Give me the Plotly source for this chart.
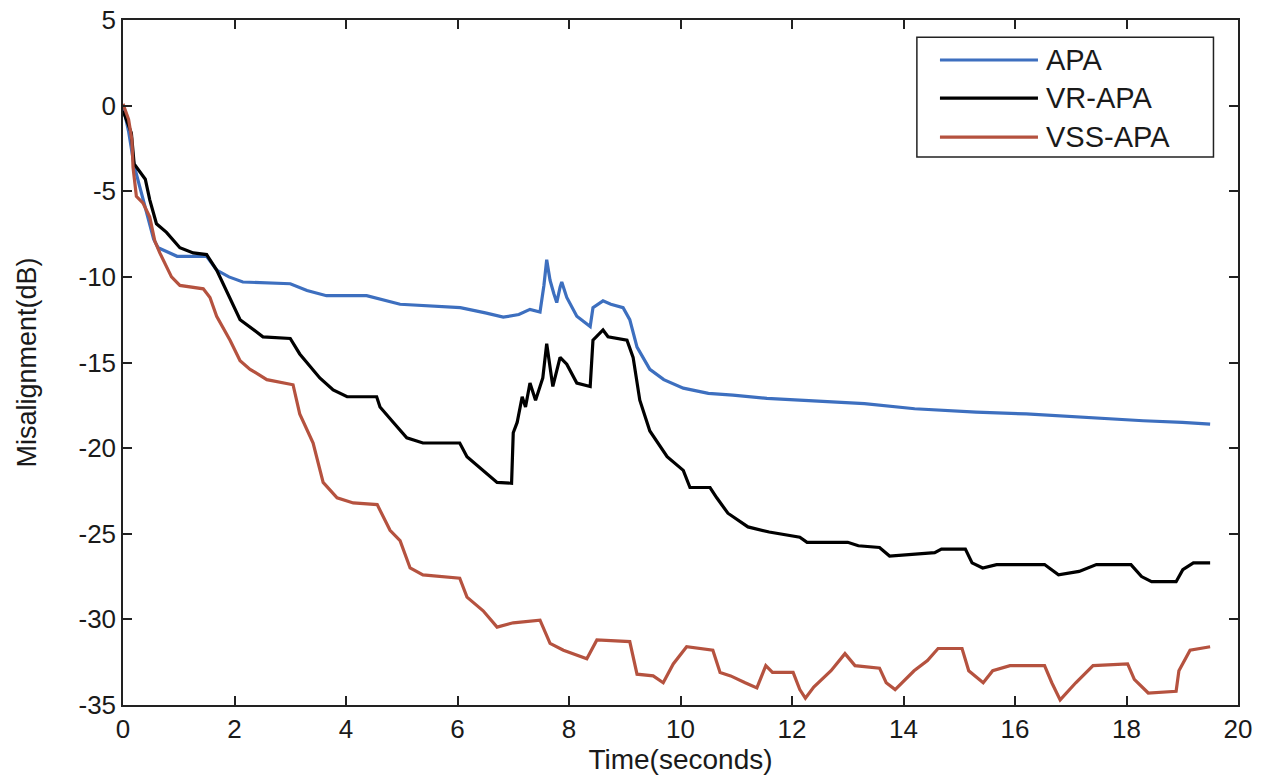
import plotly.graph_objects as go

apa_t = [0, 0.1, 0.2, 0.33, 0.45, 0.55, 0.63, 0.97, 1.5, 1.68, 1.9, 2.15, 3.0, 3.3, 3.65, 4.37, 4.97, 6.05, 6.5, 6.82, 7.1, 7.3, 7.48, 7.55, 7.6, 7.66, 7.73, 7.78, 7.84, 7.87, 7.96, 8.14, 8.38, 8.43, 8.61, 8.75, 8.97, 9.09, 9.22, 9.45, 9.7, 10.05, 10.5, 10.94, 11.55, 12.1, 13.3, 14.2, 15.3, 16.2, 17.15, 18.3, 19.0, 19.5]
apa_db = [0, -1.5, -3.5, -5.1, -6.5, -7.8, -8.3, -8.8, -8.8, -9.6, -10.0, -10.3, -10.4, -10.8, -11.1, -11.1, -11.6, -11.8, -12.1, -12.35, -12.2, -11.9, -12.05, -10.5, -9.0, -10.2, -11.0, -11.5, -10.6, -10.3, -11.2, -12.3, -12.9, -11.8, -11.4, -11.6, -11.8, -12.5, -14.1, -15.4, -16.0, -16.5, -16.8, -16.9, -17.1, -17.2, -17.4, -17.7, -17.9, -18.0, -18.2, -18.4, -18.5, -18.6]

vr_t = [0, 0.15, 0.2, 0.4, 0.48, 0.6, 0.78, 1.02, 1.26, 1.5, 1.68, 1.92, 2.1, 2.51, 3.0, 3.17, 3.35, 3.53, 3.77, 4.02, 4.55, 4.61, 4.85, 5.09, 5.38, 6.04, 6.17, 6.53, 6.71, 6.97, 6.99, 7.0, 7.07, 7.16, 7.22, 7.3, 7.4, 7.53, 7.6, 7.71, 7.84, 7.96, 8.14, 8.38, 8.43, 8.61, 8.7, 9.04, 9.15, 9.27, 9.45, 9.76, 10.05, 10.17, 10.53, 10.65, 10.85, 11.21, 11.59, 12.14, 12.27, 13.0, 13.19, 13.57, 13.75, 14.56, 14.68, 15.11, 15.23, 15.42, 15.67, 16.53, 16.78, 17.15, 17.46, 18.08, 18.27, 18.45, 18.89, 19.01, 19.2, 19.5]
vr_db = [-0.3, -1.6, -3.4, -4.3, -5.5, -6.9, -7.4, -8.3, -8.6, -8.7, -9.6, -11.2, -12.5, -13.5, -13.6, -14.5, -15.2, -15.9, -16.6, -17.0, -17.0, -17.6, -18.5, -19.4, -19.7, -19.7, -20.5, -21.5, -22.0, -22.05, -20.7, -19.1, -18.5, -17.0, -17.6, -16.2, -17.2, -15.9, -13.9, -16.4, -14.7, -15.1, -16.2, -16.4, -13.7, -13.1, -13.5, -13.7, -14.7, -17.2, -19.0, -20.5, -21.3, -22.3, -22.3, -22.9, -23.8, -24.6, -24.9, -25.2, -25.5, -25.5, -25.7, -25.8, -26.3, -26.1, -25.9, -25.9, -26.7, -27.0, -26.8, -26.8, -27.4, -27.2, -26.8, -26.8, -27.5, -27.8, -27.8, -27.1, -26.7, -26.7]

vss_t = [0, 0.1, 0.16, 0.18, 0.24, 0.36, 0.48, 0.57, 0.66, 0.78, 0.87, 1.02, 1.26, 1.44, 1.56, 1.68, 1.92, 2.1, 2.28, 2.58, 3.05, 3.17, 3.41, 3.59, 3.84, 4.13, 4.56, 4.79, 4.97, 5.15, 5.38, 6.04, 6.17, 6.46, 6.71, 7.0, 7.48, 7.66, 7.9, 8.32, 8.5, 9.09, 9.22, 9.51, 9.69, 9.87, 10.11, 10.58, 10.71, 10.9, 11.16, 11.37, 11.53, 11.65, 12.02, 12.14, 12.24, 12.39, 12.7, 12.95, 13.13, 13.57, 13.69, 13.85, 14.19, 14.43, 14.62, 15.05, 15.17, 15.43, 15.6, 15.91, 16.53, 16.66, 16.81, 17.09, 17.4, 18.02, 18.14, 18.39, 18.89, 18.94, 19.14, 19.5]
vss_db = [0.1, -0.8, -2.0, -3.6, -5.3, -5.7, -6.5, -7.9, -8.6, -9.4, -10.0, -10.5, -10.6, -10.7, -11.2, -12.3, -13.7, -14.9, -15.4, -16.0, -16.3, -18.0, -19.7, -22.0, -22.9, -23.2, -23.3, -24.8, -25.4, -27.0, -27.4, -27.6, -28.7, -29.5, -30.45, -30.2, -30.05, -31.4, -31.8, -32.3, -31.2, -31.3, -33.2, -33.3, -33.7, -32.6, -31.6, -31.8, -33.1, -33.3, -33.7, -34.0, -32.7, -33.1, -33.1, -34.1, -34.6, -33.95, -33.0, -32.0, -32.7, -32.85, -33.7, -34.1, -33.0, -32.4, -31.7, -31.7, -33.0, -33.7, -33.0, -32.7, -32.7, -33.7, -34.7, -33.7, -32.7, -32.6, -33.5, -34.3, -34.2, -33.0, -31.8, -31.6]

series_names = ["APA", "VR-APA", "VSS-APA"]
series_colors = ["#3D6FBF", "#000000", "#B5523F"]

x_ticks = [0, 2, 4, 6, 8, 10, 12, 14, 16, 18, 20]
y_ticks = [5, 0, -5, -10, -15, -20, -25, -30, -35]

FONT = "Liberation Sans, Arial, sans-serif"
LW = 3.2

fig = go.Figure()
for t, v, name, col in zip([apa_t, vr_t, vss_t], [apa_db, vr_db, vss_db],
                           series_names, series_colors):
    fig.add_trace(go.Scatter(x=t, y=v, mode="lines", name=name,
                             line=dict(color=col, width=LW), showlegend=False))

axis_common = dict(showline=True, linecolor="#222", linewidth=1.5, mirror="ticks",
                   ticks="inside", ticklen=9, tickwidth=1.5, tickcolor="#222",
                   showgrid=False, zeroline=False, automargin=False,
                   tickfont=dict(family=FONT, size=26, color="#1a1a1a"))

# legend box drawn in paper coordinates
lg_x0, lg_x1, lg_y0, lg_y1 = 0.712, 0.978, 0.800, 0.975
row_y = [0.9416, 0.886, 0.829]
line_x0, line_x1, text_x = 0.7327, 0.8206, 0.826

shapes = [dict(type="rect", xref="paper", yref="paper", x0=lg_x0, x1=lg_x1, y0=lg_y0, y1=lg_y1,
               line=dict(color="#222", width=1.5), fillcolor="white", layer="above")]
annotations = []
for name, col, yy in zip(series_names, series_colors, row_y):
    shapes.append(dict(type="line", xref="paper", yref="paper", x0=line_x0, x1=line_x1,
                       y0=yy, y1=yy, line=dict(color=col, width=LW), layer="above"))
    annotations.append(dict(xref="paper", yref="paper", x=text_x, y=yy, text=name,
                            showarrow=False, xanchor="left", yanchor="middle",
                            font=dict(family=FONT, size=29, color="#1a1a1a")))

fig.update_layout(
    width=1268, height=781,
    margin=dict(l=123, r=30, t=20, b=76),
    paper_bgcolor="white", plot_bgcolor="white",
    font=dict(family=FONT, color="#1a1a1a"),
    xaxis=dict(range=[0, 20], tickvals=x_ticks, ticktext=[str(v) for v in x_ticks],
               title=dict(text="Time(seconds)", font=dict(family=FONT, size=28), standoff=2),
               **axis_common),
    yaxis=dict(range=[-35, 5], tickvals=y_ticks, ticktext=[str(v) for v in y_ticks],
               title=dict(text="Misalignment(dB)", font=dict(family=FONT, size=27), standoff=34),
               **axis_common),
    shapes=shapes,
    annotations=annotations,
    showlegend=False,
)

fig.write_html("out.html")
